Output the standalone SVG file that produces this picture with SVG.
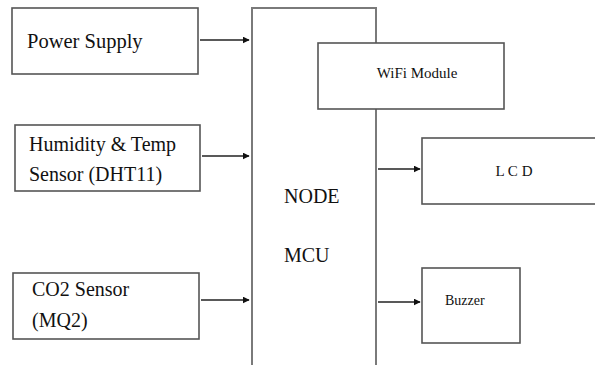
<svg xmlns="http://www.w3.org/2000/svg" width="595" height="365" viewBox="0 0 595 365">
<defs>
<style>
.box{fill:#fff;stroke:#555;stroke-width:1.6}
.mcu{fill:#fff;stroke:#7a7a7a;stroke-width:2}
.t{font-family:'Liberation Serif','Times New Roman',serif;fill:#111}
.c{stroke:#222;stroke-width:1.3;fill:none;marker-end:url(#ah)}
</style>
<marker id="ah" viewBox="0 0 10 10" refX="9" refY="5" markerWidth="7" markerHeight="7" markerUnits="userSpaceOnUse" orient="auto">
<path d="M0,0 L10,5 L0,10 z" fill="#111"/>
</marker>
</defs>
<rect width="595" height="365" fill="#fff"/>
<g id="mcu">
<path class="mcu" d="M252,366 L252,8 L376,8 L376,366"/>
<text class="t" x="284" y="203" font-size="20">NODE</text>
<text class="t" x="284" y="262" font-size="20">MCU</text>
</g>
<g id="power">
<rect class="box" x="12" y="8" width="186" height="66"/>
<text class="t" x="27" y="48" font-size="20.5">Power Supply</text>
</g>
<g id="humidity">
<rect class="box" x="15" y="125" width="185" height="66"/>
<text class="t" x="29" y="151" font-size="20">Humidity &amp; Temp</text>
<text class="t" x="29" y="181" font-size="20">Sensor (DHT11)</text>
</g>
<g id="co2">
<rect class="box" x="13" y="273" width="186" height="66"/>
<text class="t" x="32" y="296" font-size="20">CO2 Sensor</text>
<text class="t" x="32" y="327" font-size="20">(MQ2)</text>
</g>
<g id="wifi">
<rect class="box" x="318" y="43" width="186" height="66"/>
<text class="t" x="417" y="78" font-size="15" text-anchor="middle">WiFi Module</text>
</g>
<g id="lcd">
<rect class="box" x="422" y="138" width="190" height="66"/>
<text class="t" x="514" y="176" font-size="15" text-anchor="middle">L C D</text>
</g>
<g id="buzzer">
<rect class="box" x="422" y="268" width="98" height="75"/>
<text class="t" x="445" y="305" font-size="14">Buzzer</text>
</g>
<g id="connectors">
<line class="c" x1="200" y1="40" x2="249" y2="40"/>
<line class="c" x1="202" y1="156" x2="249" y2="156"/>
<line class="c" x1="201" y1="300" x2="249" y2="300"/>
<line class="c" x1="378" y1="169" x2="420" y2="169"/>
<line class="c" x1="378" y1="302" x2="420" y2="302"/>
</g>
</svg>
